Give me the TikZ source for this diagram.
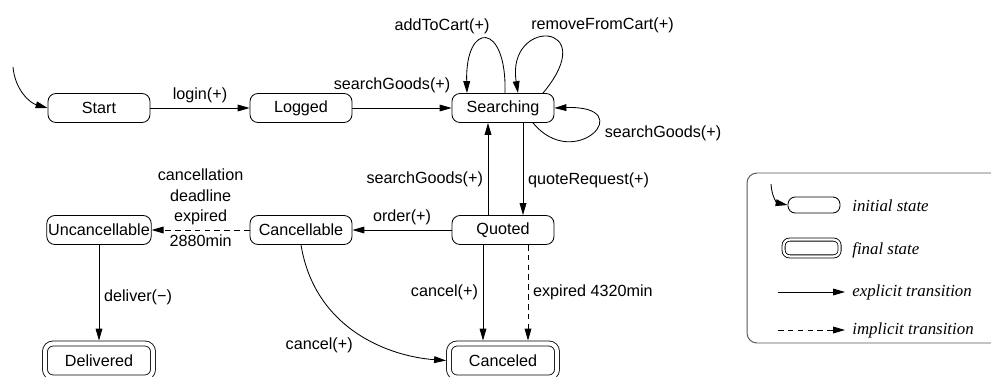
\documentclass[tikz,border=0pt]{standalone}
\usepackage{fontspec}
\setmainfont{Liberation Sans}
\newfontfamily\legendfont{Liberation Serif}
\usetikzlibrary{arrows.meta}

\tikzset{
    every node/.style={font=\fontsize{11.5}{14.5}\selectfont},
    stbox/.style={draw, rounded corners=0.2cm, minimum width=2.55cm, minimum height=0.725cm, inner xsep=1pt, inner ysep=0pt, line width=0.6pt},
    finalbox/.style={stbox, double, double distance=2.9pt, minimum width=2.7cm, minimum height=0.85cm, outer sep=2.1pt},
    trans/.style={-{Triangle[length=8.5pt,width=4.8pt]}, line width=0.6pt},
    implicit/.style={trans, dash pattern=on 4pt off 3pt},
    legtext/.style={anchor=west, inner xsep=5pt, font=\legendfont\itshape\fontsize{12}{14}\selectfont},
}

\begin{document}
\begin{tikzpicture}
        \useasboundingbox (0,0) rectangle (24.775,9.4);

        % States
        \node[stbox] (start) at (2.475,6.7) {Start};
        \node[stbox] (logged) at (7.525,6.7) {Logged};
        \node[stbox] (searching) at (12.575,6.7) {Searching};
        \node[stbox] (quoted) at (12.575,3.65) {Quoted};
        \node[stbox] (cancellable) at (7.525,3.65) {Cancellable};
        \node[stbox] (uncancellable) at (2.475,3.65) {Uncancellable};
        \node[finalbox] (delivered) at (2.475,0.3875) {Delivered};
        \node[finalbox] (canceled) at (12.575,0.3875) {Canceled};

        % Initial arrow
        \coordinate (init) at (0.325,7.725);
        \draw[trans] (init) .. controls (0.375,7.15) and (0.75,6.825) .. (start.west);

        % Transitions
        \draw[trans] (start) -- node[above]{login(+)} (logged);
        \draw[trans] (logged) -- node[above, pos=0.4, yshift=0.25cm]{searchGoods(+)} (searching);
        \draw[trans] ([xshift=0.05cm]searching.north) .. controls +(0.05,1.8) and +(-0.05,1.8) .. node[above, xshift=-1.1cm]{addToCart(+)} ([xshift=-0.9cm]searching.north);
        \draw[trans] ([xshift=1cm]searching.north) .. controls +(1.5,1.8) and +(-0.3,1.9) .. node[above, xshift=1.35cm]{removeFromCart(+)} ([xshift=0.375cm]searching.north);
        \draw[trans] ([xshift=0.75cm]searching.south) .. controls +(1.05,-1.275) and +(2.15,0.075) .. node[right, xshift=0.2cm]{searchGoods(+)} (searching.east);
        \draw[trans] ([xshift=-0.375cm]quoted.north) -- node[left, pos=0.385]{searchGoods(+)} ([xshift=-0.375cm]searching.south);
        \draw[trans] ([xshift=0.5cm]searching.south) -- node[right, pos=0.62]{quoteRequest(+)} ([xshift=0.5cm]quoted.north);
        \draw[trans] (quoted) -- node[above]{order(+)} (cancellable);
        \draw[implicit] (cancellable) -- node[above, align=center]{cancellation\\deadline\\expired} node[below]{2880min} (uncancellable);
        \draw[trans] (uncancellable) -- node[right, pos=0.55]{deliver(−)} (delivered);
        \draw[trans] ([xshift=-0.5cm]quoted.south) -- node[left]{cancel(+)} ([xshift=-0.5cm]canceled.north);
        \draw[implicit] ([xshift=0.625cm]quoted.south) -- node[right]{expired 4320min} ([xshift=0.625cm]canceled.north);
        \draw[trans] (cancellable.south) .. controls +(0.35,-2.125) and +(-1.4,0.1) .. node[below left]{cancel(+)} (canceled.west);

        % Legend
        \draw[gray!70!black, line width=0.7pt, rounded corners=0.25cm] (18.675,0.825) rectangle (25.3,5.075);
        \node[stbox, minimum width=1.3cm, minimum height=0.4cm, rounded corners=0.18cm] (leginit) at (20.35,4.275) {};
        \coordinate (leginitfrom) at (19.275,4.8);
        \draw[trans] (leginitfrom) .. controls +(0.02,-0.35) and +(-0.25,0.05) .. (leginit.west);
        \node[legtext] (txtinit) at (21.125,4.25) {initial state};
        \node[finalbox, minimum width=1.4cm, minimum height=0.42cm, double distance=1.6pt, rounded corners=0.15cm] (legfinal) at (20.29,3.2) {};
        \node[legtext] (txtfinal) at (21.125,3.15) {final state};
        \coordinate (legexp) at (19.45,2.1);
        \node[legtext] (txtexp) at (21.125,2.1) {explicit transition};
        \draw[trans] (legexp) -- (txtexp.west);
        \coordinate (legimp) at (19.45,1.15);
        \node[legtext] (txtimp) at (21.125,1.15) {implicit transition};
        \draw[implicit] (legimp) -- (txtimp.west);
\end{tikzpicture}
\end{document}
